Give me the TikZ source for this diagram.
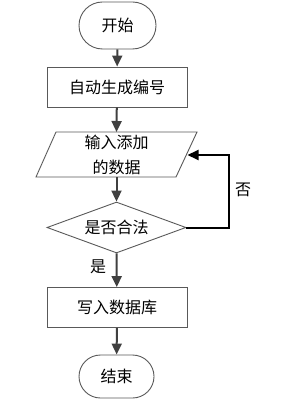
\documentclass[tikz,border=0pt]{standalone}
\usepackage{fontspec}
\setmainfont{Liberation Serif}
\newfontfamily\cjk{Noto Sans CJK SC}
\usetikzlibrary{shapes.geometric,arrows.meta}
\tikzset{
  base/.style={draw=black!65,line width=0.9pt,font=\cjk\fontsize{16}{20}\selectfont,align=center,inner sep=0pt},
  term/.style={base,rounded corners=23.5pt,minimum width=77pt,minimum height=47pt},
  proc/.style={base,minimum width=140pt,minimum height=40pt},
  conn/.style={draw=black!75,line width=2pt,-{Triangle[length=11pt,width=10pt]}},
  back/.style={draw=black,line width=2pt,-{Triangle[length=11pt,width=10pt]}},
  lbl/.style={font=\cjk\fontsize{16}{20}\selectfont,inner sep=0pt}
}
\begin{document}
\begin{tikzpicture}[x=1pt,y=-1pt]
\useasboundingbox (0,0) rectangle (295,403);
\node[term] (start) at (117.5,25.5) {开始};
\node[proc] (gen) at (117,87) {自动生成编号};
\draw[base] (56,132) -- (197,132) -- (176,177) -- (36,177) -- cycle;
\node[lbl,align=center,font=\cjk\fontsize{16}{25}\selectfont] (in) at (116.5,154.5) {输入添加\\的数据};
\coordinate (inT) at (116.5,132);
\coordinate (inB) at (116.5,177);
\coordinate (inR) at (187.5,155);
\node[base,diamond,minimum width=139pt,minimum height=51pt,aspect=2.7] (chk) at (116.5,227.5) {是否合法};
\node[proc] (db) at (117,307.5) {写入数据库};
\node[term,minimum width=75pt,minimum height=43pt,rounded corners=21.5pt] (end) at (116.5,376.5) {结束};
\coordinate (c1) at (229,227.5);
\coordinate (c2) at (229,155);
\node[lbl] (no) at (243,190) {否};
\node[lbl] (yes) at (98,267) {是};
\draw[conn] (start) -- (gen);
\draw[conn] (gen) -- (inT);
\draw[conn] (inB) -- (chk.north);
\draw[conn] (chk.south) -- (db);
\draw[conn] (db) -- (end);
\draw[back] (chk.east) -- (c1) -- (c2) -- (inR);
\end{tikzpicture}
\end{document}
